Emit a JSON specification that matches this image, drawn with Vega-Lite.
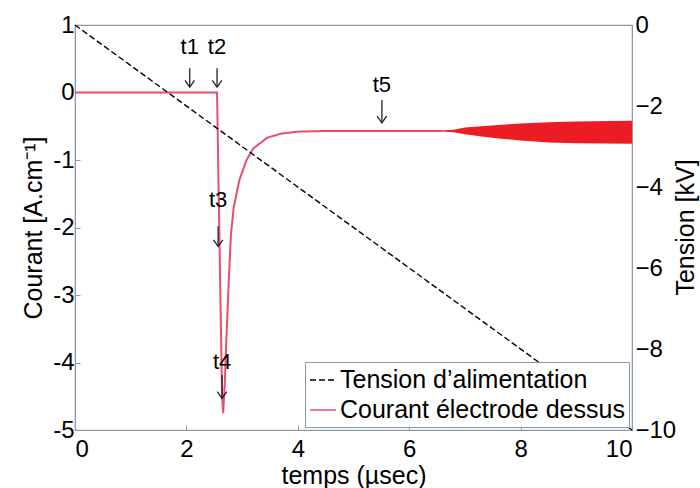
{
  "$schema": "https://vega.github.io/schema/vega-lite/v6.json",
  "width": 557,
  "height": 405,
  "autosize": {"type": "none"},
  "padding": {"left": 75, "top": 25, "right": 68, "bottom": 58},
  "background": "white",
  "config": {
    "font": "Liberation Sans",
    "view": {"stroke": "#8a9aa8", "strokeWidth": 1.2},
    "axis": {
      "labelFontSize": 24, "titleFontSize": 25, "labelColor": "black", "titleColor": "black",
      "titleFontWeight": "normal", "domainColor": "#8a9aa8", "tickColor": "#8a9aa8",
      "tickSize": -5, "grid": false, "labelExpr": "'' + datum.value"
    },
    "legend": {
      "labelFontSize": 25, "labelColor": "black", "symbolType": "stroke", "symbolSize": 676,
      "symbolStrokeWidth": 1.6, "strokeColor": "#8a9aa8", "fillColor": "white",
      "padding": 4, "rowPadding": 3, "offset": 3, "labelLimit": 400, "labelOffset": 3
    }
  },
  "datasets": {
    "tension": [
      {"t": 0, "kv": 0, "series": "Tension d’alimentation"},
      {"t": 10, "kv": -10, "series": "Tension d’alimentation"}
    ],
    "courant": [
      {"t": 0, "i": 0, "series": "Courant électrode dessus"},
      {"t": 2.55, "i": 0, "series": "Courant électrode dessus"},
      {"t": 2.58, "i": -1.5, "series": "Courant électrode dessus"},
      {"t": 2.61, "i": -3.0, "series": "Courant électrode dessus"},
      {"t": 2.64, "i": -4.5, "series": "Courant électrode dessus"},
      {"t": 2.66, "i": -4.75, "series": "Courant électrode dessus"},
      {"t": 2.69, "i": -4.3, "series": "Courant électrode dessus"},
      {"t": 2.72, "i": -3.6, "series": "Courant électrode dessus"},
      {"t": 2.76, "i": -2.8, "series": "Courant électrode dessus"},
      {"t": 2.8, "i": -2.1, "series": "Courant électrode dessus"},
      {"t": 2.85, "i": -1.7, "series": "Courant électrode dessus"},
      {"t": 2.95, "i": -1.3, "series": "Courant électrode dessus"},
      {"t": 3.08, "i": -1.0, "series": "Courant électrode dessus"},
      {"t": 3.2, "i": -0.83, "series": "Courant électrode dessus"},
      {"t": 3.45, "i": -0.67, "series": "Courant électrode dessus"},
      {"t": 3.7, "i": -0.61, "series": "Courant électrode dessus"},
      {"t": 4.0, "i": -0.58, "series": "Courant électrode dessus"},
      {"t": 4.5, "i": -0.57, "series": "Courant électrode dessus"},
      {"t": 6.6, "i": -0.57, "series": "Courant électrode dessus"}
    ],
    "band": [
      {"t": 6.5, "lo": -0.575, "hi": -0.565},
      {"t": 6.8, "lo": -0.59, "hi": -0.55},
      {"t": 7.0, "lo": -0.62, "hi": -0.52},
      {"t": 7.3, "lo": -0.65, "hi": -0.5},
      {"t": 7.6, "lo": -0.68, "hi": -0.48},
      {"t": 8.0, "lo": -0.71, "hi": -0.46},
      {"t": 8.5, "lo": -0.74, "hi": -0.44},
      {"t": 9.0, "lo": -0.75, "hi": -0.43},
      {"t": 10, "lo": -0.76, "hi": -0.42}
    ],
    "labels": [
      {"t": 2.06, "i": 0.67, "txt": "t1"},
      {"t": 2.55, "i": 0.67, "txt": "t2"},
      {"t": 2.57, "i": -1.59, "txt": "t3"},
      {"t": 2.64, "i": -3.99, "txt": "t4"},
      {"t": 5.51, "i": 0.11, "txt": "t5"}
    ],
    "arrows": [
      {"t": 2.06, "top": 0.36, "tip": 0.08},
      {"t": 2.55, "top": 0.36, "tip": 0.08},
      {"t": 2.57, "top": -1.98, "tip": -2.28},
      {"t": 2.64, "top": -4.19, "tip": -4.53},
      {"t": 5.51, "top": -0.11, "tip": -0.45}
    ]
  },
  "layer": [
    {
      "layer": [
        {
          "data": {"name": "band"},
          "mark": {"type": "area", "color": "#ec1c24", "opacity": 1},
          "encoding": {
            "x": {"field": "t", "type": "quantitative"},
            "y": {"field": "lo", "type": "quantitative"},
            "y2": {"field": "hi"}
          }
        },
        {
          "data": {"name": "courant"},
          "mark": {"type": "line", "strokeWidth": 2},
          "encoding": {
            "x": {"field": "t", "type": "quantitative", "scale": {"domain": [0, 10], "nice": false},
              "axis": {"orient": "bottom", "values": [0, 2, 4, 6, 8, 10], "title": "temps (µsec)", "labelPadding": 12, "titlePadding": 2}},
            "y": {"field": "i", "type": "quantitative", "scale": {"domain": [-5, 1], "nice": false},
              "axis": {"orient": "left", "values": [-5, -4, -3, -2, -1, 0, 1], "title": "Courant [A.cm⁻¹]", "labelPadding": 6, "titlePadding": 6}},
            "color": {"field": "series", "type": "nominal",
              "scale": {"domain": ["Tension d’alimentation", "Courant électrode dessus"], "range": ["#000000", "#e4506e"]},
              "legend": {"orient": "bottom-right", "title": null}},
            "strokeDash": {"field": "series", "type": "nominal",
              "scale": {"domain": ["Tension d’alimentation", "Courant électrode dessus"], "range": [[6, 3], [1, 0]]},
              "legend": {"orient": "bottom-right", "title": null}}
          }
        },
        {
          "data": {"name": "labels"},
          "mark": {"type": "text", "fontSize": 22, "color": "black", "baseline": "middle", "align": "center"},
          "encoding": {
            "x": {"field": "t", "type": "quantitative"},
            "y": {"field": "i", "type": "quantitative"},
            "text": {"field": "txt"}
          }
        },
        {
          "data": {"name": "arrows"},
          "mark": {"type": "rule", "color": "#222222", "strokeWidth": 1.3},
          "encoding": {
            "x": {"field": "t", "type": "quantitative"},
            "y": {"field": "top", "type": "quantitative"},
            "y2": {"field": "tip"}
          }
        },
        {
          "data": {"name": "arrows"},
          "mark": {"type": "point", "shape": "M-1,-1.4L0,0L1,-1.4", "filled": false, "color": "#222222", "strokeWidth": 1.3, "size": 90, "opacity": 1},
          "encoding": {
            "x": {"field": "t", "type": "quantitative"},
            "y": {"field": "tip", "type": "quantitative"}
          }
        }
      ]
    },
    {
      "data": {"name": "tension"},
      "mark": {"type": "line", "strokeWidth": 1.4},
      "encoding": {
        "x": {"field": "t", "type": "quantitative"},
        "y": {"field": "kv", "type": "quantitative", "scale": {"domain": [-10, 0], "nice": false},
          "axis": {"orient": "right", "values": [0, -2, -4, -6, -8, -10], "title": "Tension [kV]", "titleAngle": -90, "titleAlign": "center", "titleBaseline": "middle", "titleX": 53, "titleY": 202, "labelPadding": 3, "ticks": false,
            "labelExpr": "datum.value < 0 ? '−' + toString(-datum.value) : '0'"}},
        "color": {"field": "series", "type": "nominal"},
        "strokeDash": {"field": "series", "type": "nominal"}
      }
    }
  ],
  "resolve": {"scale": {"y": "independent"}}
}
